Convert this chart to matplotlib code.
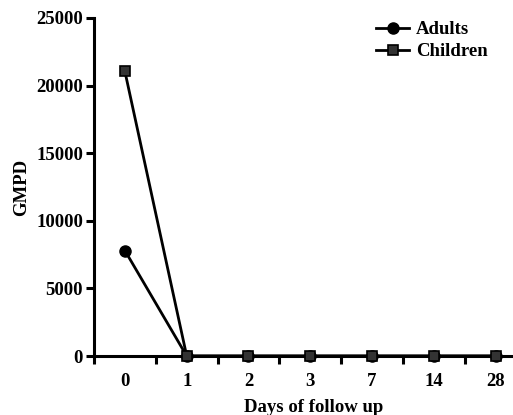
import matplotlib
matplotlib.use("Agg")
import matplotlib.pyplot as plt
import numpy as np

days = ["0", "1", "2", "3", "7", "14", "28"]
adults = [7800, 0, 0, 0, 0, 0, 0]
children = [21050, 0, 0, 0, 0, 0, 0]
yticks = [0, 5000, 10000, 15000, 20000, 25000]

plt.rcParams['font.family'] = ['Liberation Serif', 'DejaVu Serif']
plt.rcParams['font.weight'] = 'bold'
fs = 13.5

fig = plt.figure(figsize=(5.13, 4.15), dpi=100)
ax = fig.add_axes([94/513, 59/415, 1 - 94/513, (356-18)/415])

x = np.arange(len(days))
ax.plot(x, adults, color='black', lw=2, marker='o', ms=8, mfc='black', mec='black',
        clip_on=False, zorder=3, label='Adults')
ax.plot(x, children, color='black', lw=2, marker='s', ms=7.5, mfc='#333333', mec='black',
        mew=1.2, clip_on=False, zorder=3, label='Children')

ax.set_xlim(-0.5, 6.28)
ax.set_ylim(0, 25000)
ax.set_yticks(yticks)
ax.set_yticklabels([str(v) for v in yticks], fontsize=fs, fontweight='bold')
ax.set_xticks(x)
ax.set_xticklabels(days, fontsize=fs, fontweight='bold')
ax.tick_params(axis='x', which='major', length=0, pad=12)
ax.set_xticks(np.arange(-0.5, 6.0, 1.0), minor=True)
ax.tick_params(axis='x', which='minor', length=6, width=2.2, direction='out')
ax.tick_params(axis='y', length=6, width=2.2, direction='out', pad=2)

for s in ['top', 'right']:
    ax.spines[s].set_visible(False)
for s in ['left', 'bottom']:
    ax.spines[s].set_linewidth(2.2)

ax.set_ylabel('GMPD', fontsize=fs, fontweight='bold', labelpad=4)
ax.set_xlabel('Days of follow up', fontsize=fs, fontweight='bold')
ax.xaxis.set_label_coords(0.525, -0.128)
ax.xaxis.label.set_va('top')

leg = ax.legend(loc='upper right', bbox_to_anchor=(0.98, 1.04), frameon=False,
                prop={'size': fs, 'weight': 'bold'}, handlelength=1.8,
                handletextpad=0.35, labelspacing=0.25)

fig.savefig('out.png', dpi=100)
